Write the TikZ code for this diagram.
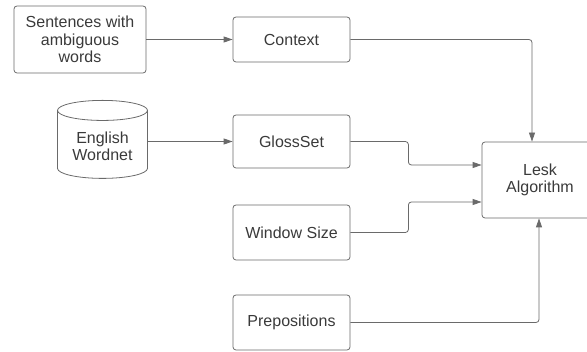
\documentclass[tikz,border=0pt]{standalone}
\usepackage{fontspec}
\setmainfont{Liberation Sans}
\usetikzlibrary{shapes.geometric,arrows.meta}

\definecolor{boxline}{HTML}{6A6A6A}
\definecolor{boxtext}{HTML}{3A3A3A}

\tikzset{
	box/.style={draw=boxline, rectangle, rounded corners=3pt, line width=0.8pt, text=boxtext, align=center, font=\fontsize{16}{17.5}\selectfont},
	link/.style={draw=boxline, line width=0.8pt, rounded corners=3pt, -{Triangle[length=9pt,width=6pt]}}
}

\begin{document}
\begin{tikzpicture}[x=1pt, y=-1pt]
					\useasboundingbox (0,0) rectangle (587,352);
					\node[box, minimum width=132pt, minimum height=67pt] (sent)at(80, 39.5) {Sentences with\\ambiguous\\words};
					\node[box, minimum width=117pt, minimum height=45pt] (ctx)at(291.5, 39.5) {Context};
					\node[box, cylinder, rounded corners=0pt, shape border rotate=90, shape aspect=0.3, minimum width=90pt, minimum height=78pt] (wn)at(102.5, 146.5) {English\\Wordnet};
					\node[box, minimum width=117pt, minimum height=53pt] (gloss)at(291.5, 141.5) {GlossSet};
					\node[box, minimum width=117pt, minimum height=55pt] (win)at(291.5, 232.5) {Window Size};
					\node[box, minimum width=117pt, minimum height=55pt] (prep)at(291.5, 322.5) {Prepositions};
					\node[box, minimum width=116pt, minimum height=76pt] (lesk)at(540, 180) {Lesk\\Algorithm};
					\draw[link] (sent) -- (ctx);
					\draw[link] (wn.east |- gloss.west) -- (gloss.west);
					\draw[link] (ctx.east) -| ([xshift=-8pt]lesk.north);
					\draw[link] (gloss.east) -- ++(58,0) |- ([yshift=15pt]lesk.west);
					\draw[link] (win.east) -- ++(58,0) |- ([yshift=-22pt]lesk.west);
					\draw[link] (prep.east) -| ([xshift=-1pt]lesk.south);
				\end{tikzpicture}
\end{document}
